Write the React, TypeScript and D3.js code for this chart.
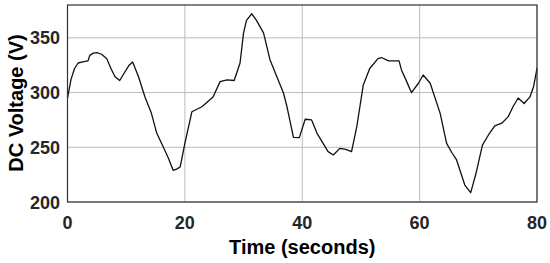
import { useEffect, useRef } from 'react';
import * as d3 from 'd3';

// readings
const time = [0, 0.6, 1.2, 1.8, 2.6, 3.5, 3.8, 4.4, 5.0, 5.8, 6.7, 7.4, 8.1, 8.9, 9.8, 10.5, 11.1, 12.1, 13.2, 14.3, 15.2, 16.3, 17.2, 18.0, 18.6, 19.2, 20.0, 21.2, 22.9, 24.8, 26.0, 27.2, 28.4, 29.4, 30.0, 30.5, 31.4, 32.2, 33.4, 34.5, 35.9, 36.8, 37.4, 38.5, 39.5, 40.5, 41.6, 42.5, 43.5, 44.4, 45.3, 46.4, 47.4, 48.4, 49.3, 50.4, 51.5, 52.9, 53.5, 54.7, 56.5, 56.9, 57.8, 58.6, 59.8, 60.6, 61.8, 63.5, 64.6, 65.5, 66.3, 67.7, 68.7, 69.6, 70.7, 71.7, 72.8, 74.0, 75.1, 75.9, 76.8, 77.8, 78.8, 79.4, 80.0];
const voltage = [295, 312, 322, 327, 328, 329, 334, 336, 336.5, 335, 331, 322, 314.5, 311, 319, 325, 328, 314.5, 296, 281, 263, 250.5, 240, 229, 230, 232, 253.6, 282.5, 287, 296, 310, 311.5, 311, 327, 354.5, 366, 372, 366, 354.5, 330, 311.5, 299.6, 287, 259, 258.8, 275.6, 275, 263, 254, 246, 243, 249, 248, 246, 269, 307, 322, 331, 332, 329, 329, 320.7, 310, 300, 308.5, 316, 308.5, 281, 253.6, 245, 238.4, 215.5, 208.5, 226, 252, 261, 269.5, 272, 278, 287, 295, 290, 296, 305, 322];
const xTicks = [0, 20, 40, 60, 80];
const yTicks = [200, 250, 300, 350];

export default function App() {
  const ref = useRef<SVGSVGElement>(null);

  useEffect(() => {
    const width = 550, height = 263;
    const m = { left: 67.5, right: 13, top: 5, bottom: 61 };
    const svg = d3.select(ref.current);
    svg.selectAll('*').remove();

    const x = d3.scaleLinear().domain([0, 80]).range([m.left, width - m.right]);
    const y = d3.scaleLinear().domain([200, 380]).range([height - m.bottom, m.top]);
    const font = 'Liberation Sans, Arial, sans-serif';

    // grid
    svg.append('g').selectAll('line.gx').data(xTicks).enter().append('line')
      .attr('x1', d => x(d)).attr('x2', d => x(d))
      .attr('y1', y(200)).attr('y2', y(380))
      .attr('stroke', '#bdbdbd').attr('stroke-width', 1);
    svg.append('g').selectAll('line.gy').data(yTicks).enter().append('line')
      .attr('x1', x(0)).attr('x2', x(80))
      .attr('y1', d => y(d)).attr('y2', d => y(d))
      .attr('stroke', '#bdbdbd').attr('stroke-width', 1);

    // line
    const line = d3.line<number>()
      .x((_, i) => x(time[i]))
      .y(d => y(d))
      .curve(d3.curveLinear);
    svg.append('path')
      .datum(voltage)
      .attr('d', line)
      .attr('fill', 'none')
      .attr('stroke', '#111')
      .attr('stroke-width', 1.3)
      .attr('stroke-linejoin', 'round');

    // box
    svg.append('rect')
      .attr('x', x(0)).attr('y', y(380))
      .attr('width', x(80) - x(0)).attr('height', y(200) - y(380))
      .attr('fill', 'none').attr('stroke', '#333').attr('stroke-width', 1.2);

    // tick labels
    svg.append('g').selectAll('text').data(xTicks).enter().append('text')
      .attr('x', d => x(d)).attr('y', 229)
      .attr('text-anchor', 'middle')
      .attr('font-family', font).attr('font-weight', 'bold').attr('font-size', 18)
      .attr('fill', '#262626')
      .text(d => d);
    svg.append('g').selectAll('text').data(yTicks).enter().append('text')
      .attr('x', 60).attr('y', d => y(d) + 6.5)
      .attr('text-anchor', 'end')
      .attr('font-family', font).attr('font-weight', 'bold').attr('font-size', 18)
      .attr('fill', '#262626')
      .text(d => d);

    // axis titles
    svg.append('text')
      .attr('x', (x(0) + x(80)) / 2).attr('y', 254)
      .attr('text-anchor', 'middle')
      .attr('font-family', font).attr('font-weight', 'bold').attr('font-size', 20)
      .attr('fill', '#000')
      .text('Time (seconds)');
    svg.append('text')
      .attr('transform', `translate(22.5,103) rotate(-90)`)
      .attr('text-anchor', 'middle')
      .attr('font-family', font).attr('font-weight', 'bold').attr('font-size', 20)
      .attr('fill', '#000')
      .text('DC Voltage (V)');
  }, []);

  return (
    <svg ref={ref} width={550} height={263}
      style={{ position: 'absolute', left: 0, top: 0, background: '#fff' }} />
  );
}
